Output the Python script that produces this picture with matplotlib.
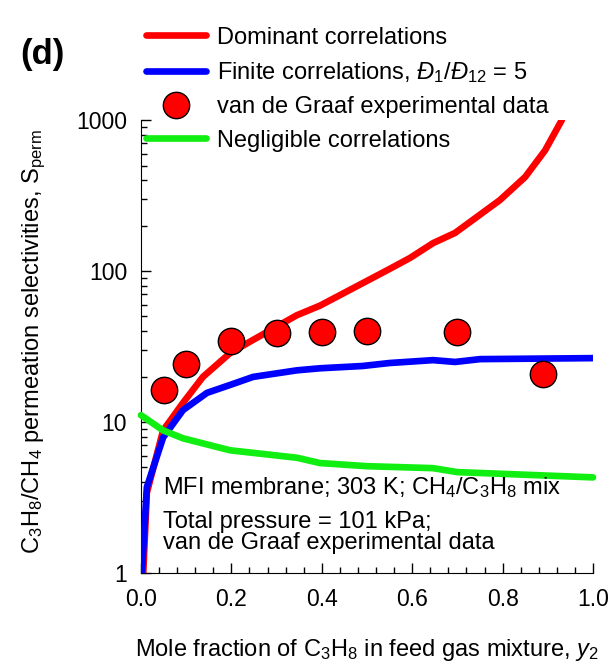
import matplotlib
matplotlib.use("Agg")
import matplotlib.pyplot as plt
from matplotlib.ticker import LogLocator, MultipleLocator, FixedLocator, NullFormatter

plt.rcParams['font.family'] = ['Liberation Sans', 'DejaVu Sans']
plt.rcParams['mathtext.fontset'] = 'custom'
plt.rcParams['mathtext.rm'] = 'Liberation Sans'
plt.rcParams['mathtext.it'] = 'Liberation Sans:italic'
plt.rcParams['mathtext.bf'] = 'Liberation Sans:bold'

# Dominant correlations
x_dom = [0.005, 0.013, 0.049, 0.093, 0.137, 0.197, 0.248, 0.345, 0.396, 0.49,
         0.544, 0.595, 0.646, 0.695, 0.743, 0.794, 0.85, 0.894, 0.931]
s_dom = [1.0, 3.4, 8.8, 13.4, 19.9, 28.6, 35, 51, 59, 83,
         101, 122, 153, 179, 228, 295, 420, 630, 1000]

# Finite correlations
x_fin = [0.002, 0.013, 0.049, 0.093, 0.146, 0.197, 0.248, 0.345, 0.396, 0.49,
         0.55, 0.646, 0.695, 0.75, 1.0]
s_fin = [1.0, 3.7, 7.9, 12.0, 15.6, 17.6, 19.9, 22.0, 22.7, 23.5,
         24.6, 25.7, 25.0, 26.1, 26.5]

# Negligible correlations
x_neg = [0.0, 0.049, 0.093, 0.197, 0.345, 0.396, 0.5, 0.646, 0.7, 1.0]
s_neg = [11.1, 8.8, 7.8, 6.5, 5.8, 5.35, 5.1, 4.95, 4.66, 4.3]

# van de Graaf experimental data
x_exp = [0.05, 0.1, 0.2, 0.3, 0.4, 0.5, 0.7, 0.89]
s_exp = [16.3, 24.2, 34.4, 38.9, 39.4, 40.0, 39.4, 20.8]

FS = 17

fig = plt.figure(figsize=(6.14, 6.67), dpi=100)
ax = fig.add_axes([0.2296, 0.1409, 0.7362, 0.6791])

l_dom, = ax.plot(x_dom, s_dom, color='#ff0000', lw=4.8, solid_capstyle='round',
                 label='Dominant correlations', zorder=3)
l_fin, = ax.plot(x_fin, s_fin, color='#0000ff', lw=4.8, solid_capstyle='round',
                 label=r'Finite correlations, $\mathit{Đ}_1/\mathit{Đ}_{12}$ = 5', zorder=3)
l_exp, = ax.plot(x_exp, s_exp, 'o', ms=19, mfc='#ff0000', mec='black', mew=1.0,
                 label='van de Graaf experimental data', zorder=4, clip_on=False)
l_neg, = ax.plot(x_neg, s_neg, color='#11ee11', lw=4.8, solid_capstyle='round',
                 label='Negligible correlations', zorder=3, clip_on=False)

ax.set_yscale('log')
ax.set_ylim(1, 1000)
ax.set_xlim(0, 1.0)

ax.spines['top'].set_visible(False)
ax.spines['right'].set_visible(False)

ax.set_xticks([0, 0.2, 0.4, 0.6, 0.8, 1.0])
ax.set_xticklabels(['0.0', '0.2', '0.4', '0.6', '0.8', '1.0'])
ax.xaxis.set_minor_locator(MultipleLocator(0.04))
ax.yaxis.set_major_locator(FixedLocator([1, 10, 100, 1000]))
ax.set_yticklabels(['1', '10', '100', '1000'])
ax.yaxis.set_minor_locator(LogLocator(base=10, subs=range(2, 10)))
ax.yaxis.set_minor_formatter(NullFormatter())

ax.tick_params(which='both', direction='in', labelsize=16.5, width=1)
ax.tick_params(which='major', length=7)
ax.tick_params(which='minor', length=4.5)
ax.tick_params(axis='x', pad=11)
ax.tick_params(axis='y', pad=10)

ax.set_xlabel(r'Mole fraction of C$_3$H$_8$ in feed gas mixture, $y_2$', fontsize=FS, va='center')
ax.xaxis.set_label_coords(0.5, -0.170)
ax.set_ylabel(r'C$_3$H$_8$/CH$_4$ permeation selectivities, $\mathrm{S}_{\rm perm}$',
              fontsize=FS, va='center')
ax.yaxis.set_label_coords(-0.237, 0.51)

ax.text(0.048, 3.71, r'MFI membrane; 303 K; CH$_4$/C$_3$H$_8$ mix', fontsize=FS, va='center')
ax.text(0.048, 2.18, 'Total pressure = 101 kPa;', fontsize=FS, va='center')
ax.text(0.048, 1.58, 'van de Graaf experimental data', fontsize=FS, va='center')

fig.text(0.033, 0.918, '(d)', fontsize=25, fontweight='bold', va='center')

leg = fig.legend(handles=[l_dom, l_fin, l_exp, l_neg], loc='upper left',
                 bbox_to_anchor=(0.238, 0.960), frameon=False, fontsize=FS,
                 handlelength=2.54, handletextpad=0.47, labelspacing=0.48,
                 borderaxespad=0, borderpad=0)
leg.set_zorder(10)

fig.savefig('out.png', dpi=100)
